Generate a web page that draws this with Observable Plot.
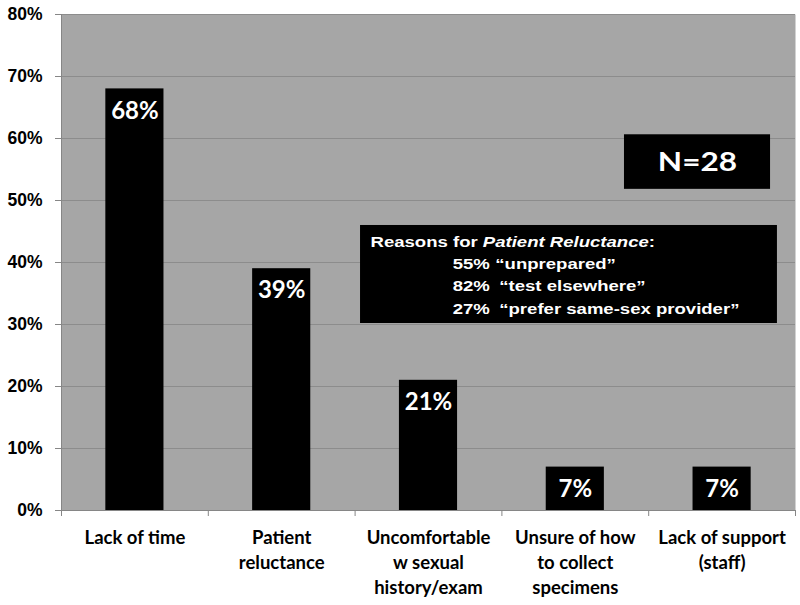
<!DOCTYPE html>
<html><head><meta charset="utf-8">
<script src="https://cdn.jsdelivr.net/npm/d3@7"></script>
<script src="https://cdn.jsdelivr.net/npm/@observablehq/plot@0.6"></script>
<style>body{margin:0;background:#fff}</style>
</head><body><div id="chart"></div>
<script>
const categories = ["Lack of time", "Patient reluctance", "Uncomfortable w sexual history/exam", "Unsure of how to collect specimens", "Lack of support (staff)"];
const categoryLabels = ["Lack of time", "Patient\nreluctance", "Uncomfortable\nw sexual\nhistory/exam", "Unsure of how\nto collect\nspecimens", "Lack of support\n(staff)"];
const values = [68, 39, 21, 7, 7];
const yTicks = [0, 10, 20, 30, 40, 50, 60, 70, 80];
const sampleLabel = "N=28";
const reasonsTitle = ["Reasons for ", "Patient Reluctance", ":"];
const reasonPercents = ["55%", "82%", "27%"];
const reasonTexts = ["\u201Cunprepared\u201D", "\u201Ctest elsewhere\u201D", "\u201Cprefer same-sex provider\u201D"];

const data = categories.map((c, i) => ({i, category: c, label: categoryLabels[i], value: values[i]}));
const half = 0.198;
const quoteShift = [0, 0.027, 0.027];
const reasons = reasonPercents.map((p, i) => ({p, t: reasonTexts[i], y: 39.7 - i * 3.6, s: quoteShift[i]}));
const boxFont = "Liberation Sans, Arial, sans-serif";

const plot = Plot.plot({
  width: 800, height: 605,
  marginLeft: 61, marginRight: 5, marginTop: 14, marginBottom: 95,
  style: {background: "#fff", overflow: "visible"},
  x: {type: "linear", domain: [0, 5], axis: null},
  y: {domain: [0, 80], axis: null},
  marks: [
    Plot.frame({fill: "#a6a6a6", stroke: null}),
    Plot.ruleY(yTicks.filter(t => t > 0), {stroke: "#8c8c8c", strokeWidth: 1}),
    Plot.ruleX([0], {stroke: "#868686"}),
    Plot.ruleY([0], {stroke: "#868686"}),
    Plot.axisY({ticks: yTicks, tickFormat: d => d + "%", tickSize: 6, tickPadding: 13, stroke: "#868686", fill: "black",
      fontSize: 17.5, fontWeight: "bold", fontFamily: boxFont}),
    Plot.axisX({ticks: [0, 1, 2, 3, 4, 5], tickFormat: () => "", tickSize: 6, stroke: "#868686"}),
    Plot.rectY(data, {x1: d => d.i + 0.5 - half, x2: d => d.i + 0.5 + half, y1: 0, y2: "value", fill: "black"}),
    Plot.text(data, {x: d => d.i + 0.5, y: "value", text: d => d.value + "%", dy: 22, fill: "white",
      fontSize: 24, fontWeight: "bold", fontFamily: "Lato, sans-serif"}),
    Plot.text(data, {x: d => d.i + 0.5, y: 0, text: "label", lineAnchor: "top", dy: 16, lineHeight: 1.35, fill: "black",
      fontSize: 18.5, fontWeight: "bold", fontFamily: "Lato, sans-serif"}),
    // N box
    Plot.rect([sampleLabel], {x1: 3.835, x2: 4.83, y1: 51.8, y2: 60.6, fill: "black"}),
    Plot.text([sampleLabel], {x: (3.835 + 4.83) / 2, y: (51.8 + 60.6) / 2, text: d => d, fill: "white",
      fontSize: 27, fontWeight: "bold", fontFamily: "Lato, sans-serif"}),
    // Reasons box
    Plot.rect([0], {x1: 2.037, x2: 4.877, y1: 30.16, y2: 45.97, fill: "black"}),
    Plot.text([reasonsTitle.join("")], {x: 2.105, y: 43.2, text: d => d, textAnchor: "start", fill: "white",
      fontSize: 14.5, fontWeight: "bold", fontFamily: boxFont}),
    Plot.text(reasons, {x: 2.665, y: "y", text: "p", textAnchor: "start", fill: "white",
      fontSize: 14.5, fontWeight: "bold", fontFamily: boxFont}),
    Plot.text(reasons, {x: d => 2.955 + d.s, y: "y", text: "t", textAnchor: "start", fill: "white",
      fontSize: 14.5, fontWeight: "bold", fontFamily: boxFont})
  ]
});
document.getElementById("chart").appendChild(plot);

function stretch(el, s, anchorMiddle) {
  const tr = el.getAttribute("transform") || "";
  const x = +el.getAttribute("x") || 0, y = +el.getAttribute("y") || 0;
  el.setAttribute("transform", `${tr} translate(${x},${y}) scale(${s},1) translate(${-x},${-y})`);
}
const boxTexts = new Set([reasonsTitle.join(""), ...reasonPercents, ...reasonTexts]);
d3.select(plot).selectAll("text").each(function () {
  const el = this;
  if (el.textContent === sampleLabel) { stretch(el, 1.17); return; }
  if (!boxTexts.has(el.textContent)) return;
  if (el.textContent === reasonsTitle.join("")) {
    const t = d3.select(el);
    t.text(null);
    t.append("tspan").text(reasonsTitle[0]);
    t.append("tspan").attr("font-style", "italic").text(reasonsTitle[1]);
    t.append("tspan").text(reasonsTitle[2]);
  }
  stretch(el, 1.28);
});
</script>
</body></html>
